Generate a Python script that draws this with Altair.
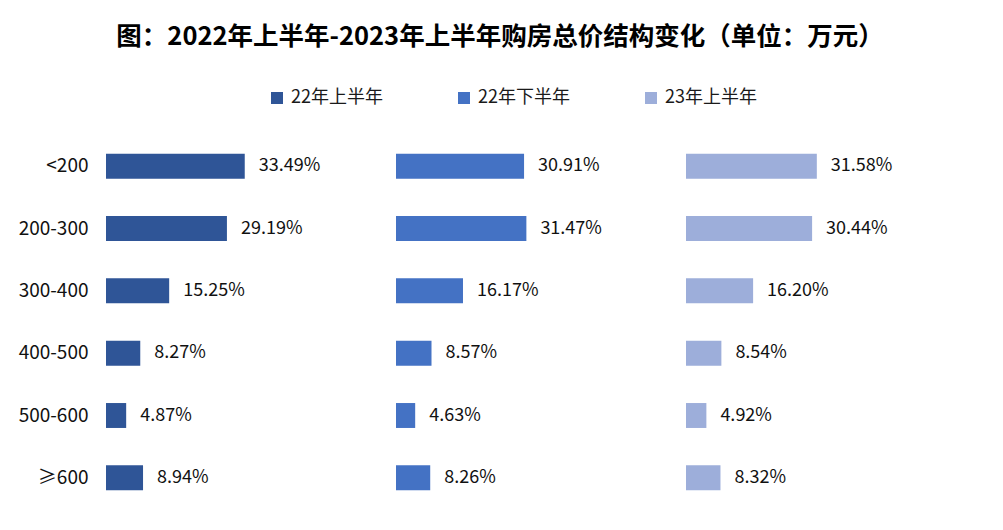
import altair as alt
import pandas as pd

categories = ["<200", "200-300", "300-400", "400-500", "500-600", "≥600"]
periods = ["22年上半年", "22年下半年", "23年上半年"]
h1_2022 = [33.49, 29.19, 15.25, 8.27, 4.87, 8.94]
h2_2022 = [30.91, 31.47, 16.17, 8.57, 4.63, 8.26]
h1_2023 = [31.58, 30.44, 16.20, 8.54, 4.92, 8.32]
colors = ["#2F5597", "#4472C4", "#9DAEDA"]

series = [h1_2022, h2_2022, h1_2023]
rows = []
for p, vals in zip(periods, series):
    for c, v in zip(categories, vals):
        rows.append({"period": p, "category": c, "value": v, "label": f"{v:.2f}%"})
df = pd.DataFrame(rows)

FONT = "Noto Sans CJK SC"

color_enc = alt.Color(
    "period:N",
    scale=alt.Scale(domain=periods, range=colors),
    legend=alt.Legend(
        title=None,
        orient="none",
        legendX=162,
        legendY=-46,
        direction="horizontal",
        symbolType="square",
        symbolSize=144,
        symbolStrokeWidth=0,
        labelFont=FONT,
        labelFontSize=18,
        labelColor="#1a1a1a",
        labelOffset=5,
        columnPadding=72,
    ),
)


def panel(p, first):
    base = alt.Chart(df).transform_filter(alt.datum.period == p)
    if first:
        yaxis = alt.Axis(
            title=None,
            domain=False,
            ticks=False,
            labelFont=FONT,
            labelFontSize=19,
            labelColor="#111111",
            labelPadding=18,
            minExtent=98,
            maxExtent=98,
        )
    else:
        yaxis = None
    y = alt.Y(
        "category:N",
        sort=categories,
        axis=yaxis,
        scale=alt.Scale(paddingInner=0.6, paddingOuter=0.3),
    )
    x = alt.X("value:Q", scale=alt.Scale(domain=[0, 70]), axis=None)
    bars = base.mark_bar().encode(x=x, y=y, color=color_enc)
    text = base.mark_text(
        align="left", baseline="middle", dx=14, font=FONT, fontSize=18, color="#111111"
    ).encode(x=x, y=y, text="label:N")
    return (bars + text).properties(width=290, height=374)


chart = (
    alt.hconcat(*[panel(p, i == 0) for i, p in enumerate(periods)], spacing=0)
    .properties(
        title=alt.TitleParams(
            "图：2022年上半年-2023年上半年购房总价结构变化（单位：万元）",
            font=FONT,
            fontSize=25.5,
            fontWeight="bold",
            color="#000000",
            anchor="middle",
            offset=39,
            dx=8,
        ),
        padding={"left": 0, "top": 16, "right": 0, "bottom": 0},
    )
    .configure_view(stroke=None)
)

chart.save("out.html", embed_options={"renderer": "svg", "actions": False})
